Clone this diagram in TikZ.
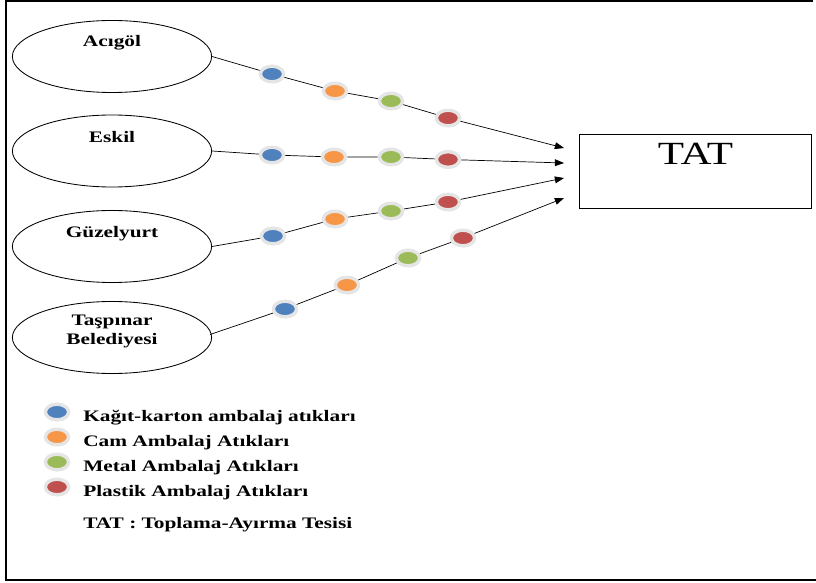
\documentclass[tikz,border=0pt]{standalone}
\usepackage{fontspec}
\setmainfont[FakeStretch=1.33]{Liberation Serif}
\usetikzlibrary{shapes.geometric,shadows,arrows.meta,calc}
\definecolor{kblue}{HTML}{4F81BD}
\definecolor{korange}{HTML}{F79646}
\definecolor{kgreen}{HTML}{9BBB59}
\definecolor{kred}{HTML}{C0504D}
\begin{document}
\begin{tikzpicture}[x=0.025cm,y=-0.025cm,
    belde/.style={shape=ellipse,draw=black,line width=0.6pt,minimum width=4.98cm,minimum height=1.8cm},
    atik/.style={shape=ellipse,draw=white!90!black,line width=2.4pt,minimum width=0.58cm,minimum height=0.39cm,inner sep=0pt,
        drop shadow={shadow xshift=0.6pt,shadow yshift=-1pt,fill=black!30}},
    yazi/.style={font=\fontsize{11.4}{13.5}\selectfont\bfseries},
    ok/.style={-{Triangle[length=0.23cm,width=0.17cm]},line width=0.5pt}]
                \useasboundingbox (0,0) rectangle (816,583);
                \draw[line width=1.2pt] (813,1) -- (6,1) -- (6,580) -- (816,580);

                \node[belde, label={[yazi, yshift=0.34cm]center:Acıgöl}] (acigol) at (112,56.5) {};
                \node[belde, label={[yazi, yshift=0.35cm]center:Eskil}] (eskil) at (112,151) {};
                \node[belde, label={[yazi, yshift=0.33cm]center:Güzelyurt}] (guzelyurt) at (112,246.5) {};
                \node[belde, label={[yazi, align=center, yshift=0.15cm]center:Taşpınar\\Belediyesi}] (taspinar) at (112,337.5) {};

                \node[shape=rectangle,draw=black,line width=0.6pt,minimum width=5.8cm,minimum height=1.86cm,
                    label={[font=\fontsize{23}{27}\selectfont, yshift=0.45cm]center:TAT}] (tat) at (695.5,171.5) {};
                \coordinate (t1) at ($(tat.west)+(-15,-23.5)$);
                \coordinate (t2) at ($(tat.west)+(-15,-8.5)$);
                \coordinate (t3) at ($(tat.west)+(-15,6.5)$);
                \coordinate (t4) at ($(tat.west)+(-15,26.5)$);

                % Acigol
                \node[atik, fill=kblue] (a1) at (272,74) {};
                \node[atik, fill=korange] (a2) at (335,91) {};
                \node[atik, fill=kgreen] (a3) at (391,101) {};
                \node[atik, fill=kred] (a4) at (448,118) {};
                % Eskil
                \node[atik, fill=kblue] (e1) at (272,155) {};
                \node[atik, fill=korange] (e2) at (334,157) {};
                \node[atik, fill=kgreen] (e3) at (391,157) {};
                \node[atik, fill=kred] (e4) at (448,159.5) {};
                % Guzelyurt
                \node[atik, fill=kblue] (g1) at (273,236) {};
                \node[atik, fill=korange] (g2) at (335,219) {};
                \node[atik, fill=kgreen] (g3) at (391,211) {};
                \node[atik, fill=kred] (g4) at (448,202) {};
                % Taspinar
                \node[atik, fill=kblue] (p1) at (285,309) {};
                \node[atik, fill=korange] (p2) at (347,285) {};
                \node[atik, fill=kgreen] (p3) at (408,258) {};
                \node[atik, fill=kred] (p4) at (463,238) {};

                \draw[line width=0.5pt] (acigol.east) -- (a1) -- (a2) -- (a3) -- (a4);
                \draw[ok] (a4) -- (t1);

                \draw[line width=0.5pt] (eskil.east) -- (e1) -- (e2) -- (e3) -- (e4);
                \draw[ok] (e4) -- (t2);

                \draw[line width=0.5pt] (guzelyurt.east) -- (g1) -- (g2) -- (g3) -- (g4);
                \draw[ok] (g4) -- (t3);

                \draw[line width=0.5pt] ($(taspinar.east)+(-2,-3)$) -- (p1) -- (p2) -- (p3) -- (p4);
                \draw[ok] (p4) -- (t4);

                % legend
                \node[atik, fill=kblue] (l1) at (57,412) {};
                \node[atik, fill=korange] (l2) at (57,437) {};
                \node[atik, fill=kgreen] (l3) at (57,462) {};
                \node[atik, fill=kred] (l4) at (57,487) {};
                \node[yazi, anchor=west, inner sep=0pt] (k1) at (83,418) {Kağıt-karton ambalaj atıkları};
                \node[yazi, anchor=west, inner sep=0pt] (k2) at (83,443) {Cam Ambalaj Atıkları};
                \node[yazi, anchor=west, inner sep=0pt] (k3) at (83,468) {Metal Ambalaj Atıkları};
                \node[yazi, anchor=west, inner sep=0pt] (k4) at (83,493) {Plastik Ambalaj Atıkları};
                \node[yazi, anchor=west, inner sep=0pt] (k5) at (83,525) {TAT : Toplama-Ayırma Tesisi};
            \end{tikzpicture}
\end{document}
